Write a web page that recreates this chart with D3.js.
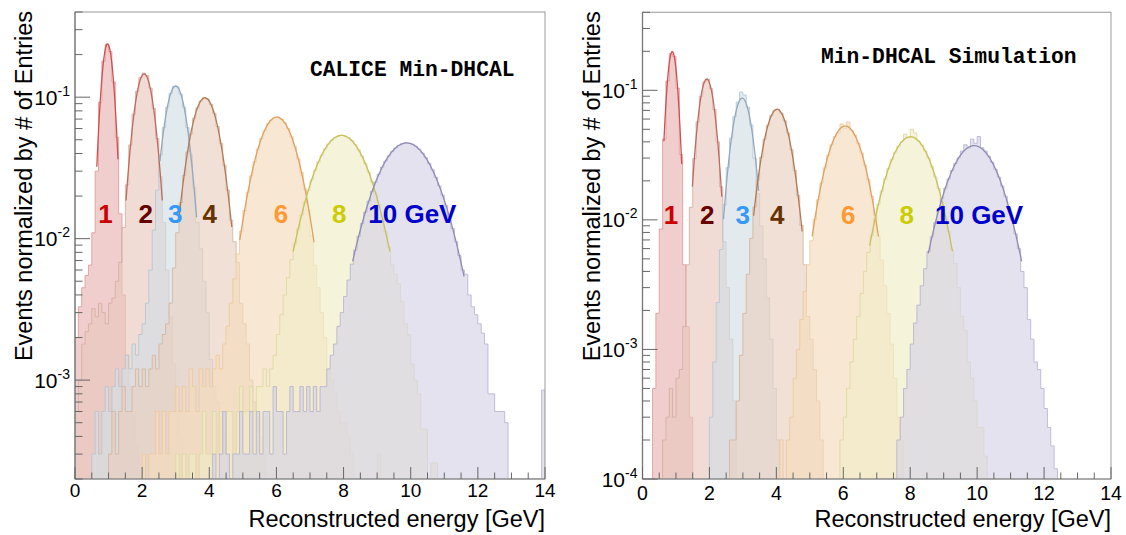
<!DOCTYPE html>
<html><head><meta charset="utf-8">
<script src="https://cdn.jsdelivr.net/npm/d3@7"></script>
<style>body{margin:0;background:#fff} svg{display:block}</style>
</head><body><svg id="c" width="1126" height="535"></svg>
<script>
// ---------------- DATA ----------------
const energies = [1, 2, 3, 4, 6, 8, 10];
const energyLabels = ["1", "2", "3", "4", "6", "8", "10 GeV"];
const binWidth = 0.1;                       // GeV
const xTickValues = [0, 2, 4, 6, 8, 10, 12, 14];
const xTitle = "Reconstructed energy [GeV]";
const yTitle = "Events normalized by # of Entries";

// CALICE Min-DHCAL test-beam data (first bin low edge, then bin contents)
const dataStart = [0.0, 0.0, 0.5, 1.0, 2.0, 3.0, 4.0];
const dataE1 = [0.002,0.0033,0.0045,0.0055,0.0065,0.011,0.03,0.092,0.18,0.236,0.21,0.128,0.052,0.015,0.004,0.0015,0.0009,0.0006,0.00035];
const dataE2 = [0.0006,0.001,0.0018,0.0022,0.0025,0.0032,0.0028,0.0035,0.003,0.0025,0.0035,0.0038,0.005,0.0068,0.012,0.024,0.046,0.076,0.11,0.138,0.148,0.142,0.116,0.083,0.051,0.0275,0.013,0.006,0.0028,0.0013,0.0007,0.0004,0.0003];
const dataE3 = [0.0003,0.0006,0.0003,0.0006,0.0009,0.0006,0.0009,0.0012,0.0009,0.0012,0.0015,0.0012,0.0018,0.0015,0.0021,0.0025,0.0035,0.006,0.0115,0.022,0.039,0.061,0.085,0.106,0.119,0.118,0.105,0.085,0.061,0.039,0.023,0.013,0.0085,0.005,0.003,0.0014,0.0009,0.0007,0.0005,0.0004,0.0003];
const dataE4 = [0.0003,0.0006,0.0003,0.0006,0.0009,0.0006,0.0006,0.0009,0.0012,0.0009,0.0012,0.0009,0.0012,0.0015,0.0012,0.0018,0.0021,0.0025,0.0035,0.0062,0.011,0.018,0.028,0.041,0.055,0.071,0.084,0.094,0.099,0.097,0.089,0.077,0.062,0.047,0.033,0.022,0.0135,0.0095,0.0068,0.0035,0.0025,0.0018,0.001,0.0007,0.0006,0.0004,0.0003];
const dataE6 = [0.0003,0,0.0003,0.0003,0.0006,0.0003,0.0006,0.0003,0.0006,0.0006,0.0009,0.0006,0.0009,0.0006,0.0012,0.0009,0.0006,0.0012,0.0009,0.0012,0.0009,0.0012,0.0015,0.0012,0.0018,0.0024,0.0035,0.0052,0.0078,0.0113,0.0158,0.0213,0.0278,0.035,0.043,0.051,0.058,0.065,0.069,0.072,0.072,0.07,0.066,0.06,0.0525,0.0447,0.0367,0.0293,0.0225,0.016,0.0105,0.0065,0.0045,0.003,0.002,0.0012,0.001,0.0008,0.0006,0.0005,0.0005,0.0004,0.0003,0,0,0,0,0,0,0,0.0003];
const dataE8 = [0.0003,0,0.0003,0,0.0003,0.0003,0,0.0003,0.0006,0.0003,0.0003,0.0006,0.0003,0.0006,0.0003,0.0006,0.0006,0.0003,0.0006,0.0009,0.0006,0.0006,0.0009,0.0006,0.0009,0.0009,0.0012,0.0009,0.0012,0.0015,0.0021,0.0029,0.004,0.0053,0.0071,0.0092,0.0117,0.0147,0.0181,0.0219,0.026,0.0304,0.0348,0.039,0.043,0.0467,0.0497,0.052,0.0533,0.0537,0.0531,0.0516,0.0492,0.0461,0.0424,0.0382,0.0339,0.0295,0.0252,0.0211,0.0174,0.0141,0.0112,0.0087,0.0065,0.0056,0.0048,0.0036,0.0025,0.0021,0.0013,0.001,0.0008,0.00045,0.00045,0,0.00026,0.00026];
const dataE10 = [0,0.0003,0,0.0003,0.0006,0.0003,0,0.0003,0.0003,0.0006,0.0003,0.0003,0.0006,0.0003,0.0006,0.0003,0.0006,0.0006,0.0003,0.0009,0.0006,0.0006,0.0003,0.0006,0.0009,0.0006,0.0006,0.0009,0.0006,0.0009,0.0006,0.0009,0.0006,0.0009,0.0009,0.0012,0.0015,0.0018,0.0024,0.003,0.0039,0.0051,0.0066,0.0083,0.0104,0.0128,0.0154,0.0184,0.0216,0.025,0.0285,0.032,0.0354,0.0385,0.0414,0.0438,0.0457,0.0469,0.0475,0.0473,0.0465,0.045,0.0429,0.0403,0.0373,0.034,0.0306,0.0271,0.0236,0.0203,0.0172,0.0143,0.0118,0.0095,0.0076,0.006,0.0056,0.004,0.0033,0.0029,0.0025,0.00215,0.0018,0.0008,0.0008,0.0006,0.0006,0.0006,0.0005,0,0,0,0,0,0,0,0,0,0,0.00085];
// Gaussian fits to the data (mean, sigma in GeV; peak height; fit range)
const dataFitMean  = [0.97, 2.06, 3.0, 3.87, 6.01, 7.94, 9.88];
const dataFitSigma = [0.16, 0.266, 0.3, 0.39, 0.55, 0.74, 0.82];
const dataFitPeak  = [0.238, 0.146, 0.12, 0.099, 0.0723, 0.0537, 0.0475];
const dataFitLo    = [0.65, 1.52, 2.53, 3.1, 4.91, 6.5, 8.27];
const dataFitHi    = [1.28, 2.6, 3.62, 4.67, 7.12, 9.38, 11.59];

// Min-DHCAL simulation
const simStart = [0.3, 0.6, 1.9, 2.5, 4.0, 5.6, 7.0];
const simE1 = [0.0005,0.0019,0.0085,0.042,0.118,0.192,0.183,0.104,0.032,0.0045,0.0015,0.0003];
const simE2 = [0.0002,0.0003,0.0005,0.0003,0.0006,0.0007,0.0015,0.0045,0.0125,0.0297,0.057,0.09,0.116,0.122,0.103,0.071,0.04,0.018,0.0068,0.003,0.0012,0.0004];
const simE3 = [0.0001,0.0003,0.0008,0.0023,0.0059,0.0131,0.0253,0.0427,0.0626,0.081,0.097,0.092,0.074,0.054,0.03,0.016,0.009,0.005,0.0025,0.0012,0.0005,0.0002];
const simE4 = [0.0001,0.0002,0.0002,0.0004,0.0009,0.0019,0.0038,0.0072,0.0126,0.0203,0.0304,0.042,0.0538,0.0638,0.07,0.0715,0.0668,0.0581,0.0468,0.0349,0.0241,0.0154,0.0091,0.0045,0.0018,0.0012,0.0007,0.0004,0.0002];
const simE6 = [0.0001,0.0002,0.0001,0.0002,0.0003,0.0006,0.001,0.0017,0.0028,0.0045,0.0069,0.0101,0.0143,0.0193,0.0252,0.0315,0.038,0.044,0.047,0.055,0.051,0.057,0.049,0.045,0.039,0.0328,0.0264,0.0205,0.0152,0.0109,0.0075,0.0049,0.0031,0.0019,0.0011,0.0006,0.0003,0.0002,0.0001];
const simE8 = [0.0001,0.0001,0.0001,0.0002,0.0003,0.0005,0.0008,0.0012,0.0018,0.0027,0.004,0.0056,0.0076,0.0102,0.0132,0.0167,0.0207,0.0249,0.0291,0.0333,0.037,0.0401,0.046,0.043,0.05,0.047,0.0406,0.0377,0.034,0.03,0.0257,0.0215,0.0175,0.0139,0.0107,0.0081,0.0059,0.0046,0.003,0.0018,0.0014,0.0008,0.0006,0.0004,0.00025,0.00025,0.00015];
const simE10 = [0.0001,0.0001,0,0.0001,0.0001,0.0001,0.0002,0.0003,0.0005,0.0007,0.0011,0.0016,0.0022,0.0031,0.0042,0.0057,0.0074,0.0095,0.0119,0.0146,0.0176,0.0207,0.024,0.0272,0.0301,0.034,0.038,0.036,0.042,0.039,0.044,0.036,0.034,0.031,0.0278,0.0246,0.0214,0.0182,0.0152,0.0124,0.0099,0.0078,0.006,0.004,0.003,0.0017,0.0012,0.0008,0.0007,0.0005,0.00035,0.00025,0.00018,0.00012];
const simFitMean  = [0.89, 1.92, 2.98, 4.02, 6.06, 8.01, 9.91];
const simFitSigma = [0.14, 0.22, 0.27, 0.36, 0.5, 0.62, 0.7];
const simFitPeak  = [0.199, 0.122, 0.087, 0.0713, 0.053, 0.0438, 0.0374];
const simFitLo    = [0.64, 1.49, 2.42, 3.32, 5.07, 6.79, 8.54];
const simFitHi    = [1.17, 2.37, 3.47, 4.77, 7.05, 9.26, 11.33];

// ---------------- STYLE / LAYOUT ----------------
const fillColors = ["#eab4b4", "#eac8bf", "#d2dfe5", "#eacfbf", "#f5dcbc", "#efecc6", "#d6d3e5"];
const lineColors = ["#de9494", "#d3aca2", "#b4c5d0", "#d2b49e", "#ecc89c", "#dcd7a2", "#b4b1cf"];
const fitColors  = ["#d24e4e", "#bf6a5c", "#90a8c0", "#b07a55", "#e0a060", "#c8c05a", "#8f8db6"];
const labelColors = ["#cc0000", "#660000", "#3399ff", "#663300", "#ff9933", "#cccc00", "#0000cc"];
const FONT = "'Liberation Sans', Arial, Helvetica, sans-serif";
const MONO = "'Liberation Mono', 'Courier New', monospace";

const panels = [
  { hists: [dataE1, dataE2, dataE3, dataE4, dataE6, dataE8, dataE10], starts: dataStart,
    fit: {mean: dataFitMean, sigma: dataFitSigma, peak: dataFitPeak, lo: dataFitLo, hi: dataFitHi},
    title: "CALICE Min-DHCAL", titleX: 310, titleY: 76,
    left: 75, right: 545, top: 12, bottom: 479, ymin: 2e-4, ymax: 0.4,
    labelX: [105.5, 145.8, 175.3, 209.8, 281, 339.2, 368.3], labelY: 223,
    yLabelSize: 21, ySupSize: 14, xLabelSize: 19, xLabelY: 497, yTitleX: 32, xTitleY: 527 },
  { hists: [simE1, simE2, simE3, simE4, simE6, simE8, simE10], starts: simStart,
    fit: {mean: simFitMean, sigma: simFitSigma, peak: simFitPeak, lo: simFitLo, hi: simFitHi},
    title: "Min-DHCAL Simulation", titleX: 821, titleY: 63,
    left: 642.5, right: 1111, top: 12.3, bottom: 479, ymin: 1e-4, ymax: 0.4,
    labelX: [671, 707.3, 742.7, 777.3, 848.3, 906.7, 935], labelY: 224,
    yLabelSize: 21, ySupSize: 14, xLabelSize: 19.5, xLabelY: 500, yTitleX: 600, xTitleY: 527 }
];

const svg = d3.select("#c");

panels.forEach((p, pi) => {
  const x = d3.scaleLinear().domain([0, 14]).range([p.left, p.right]);
  const y = d3.scaleLog().domain([p.ymin, p.ymax]).range([p.bottom, p.top]);
  const g = svg.append("g");
  const clipId = "clip" + pi;
  svg.append("clipPath").attr("id", clipId).append("rect")
    .attr("x", p.left).attr("y", p.top).attr("width", p.right - p.left).attr("height", p.bottom - p.top);
  const plot = g.append("g").attr("clip-path", `url(#${clipId})`);

  // histograms
  p.hists.forEach((vals, k) => {
    const pts = [];
    vals.forEach((v, i) => {
      const x0 = p.starts[k] + i * binWidth;
      const yy = Math.max(v, p.ymin);
      pts.push([x0, yy], [x0 + binWidth, yy]);
    });
    const area = d3.area().x(d => x(d[0])).y0(y(p.ymin)).y1(d => y(d[1]));
    plot.append("path").attr("d", area(pts))
      .attr("fill", fillColors[k]).attr("fill-opacity", 0.65)
      .attr("stroke", lineColors[k]).attr("stroke-opacity", 0.9).attr("stroke-width", 0.9);
  });

  // gaussian fit curves
  energies.forEach((e, k) => {
    const f = p.fit;
    const n = 80;
    const xs = d3.range(n + 1).map(i => f.lo[k] + (f.hi[k] - f.lo[k]) * i / n);
    const line = d3.line().x(d => x(d)).y(d => y(f.peak[k] * Math.exp(-0.5 * ((d - f.mean[k]) / f.sigma[k]) ** 2)));
    plot.append("path").attr("d", line(xs)).attr("fill", "none")
      .attr("stroke", fitColors[k]).attr("stroke-width", 1.3);
  });

  // energy labels
  energyLabels.forEach((t, k) => {
    g.append("text").attr("x", p.labelX[k]).attr("y", p.labelY)
      .attr("text-anchor", k < 6 ? "middle" : "start")
      .attr("font-family", FONT).attr("font-weight", "bold").attr("font-size", 26)
      .attr("fill", labelColors[k]).text(t);
  });

  // title
  g.append("text").attr("x", p.titleX).attr("y", p.titleY)
    .attr("font-family", MONO).attr("font-weight", "bold").attr("font-size", 21.3)
    .attr("fill", "#000").text(p.title);

  // frame
  g.append("rect").attr("x", p.left).attr("y", p.top)
    .attr("width", p.right - p.left).attr("height", p.bottom - p.top)
    .attr("fill", "none").attr("stroke", "#aaa").attr("stroke-width", 1.2);
  g.append("line").attr("x1", p.left).attr("x2", p.left).attr("y1", p.top).attr("y2", p.bottom)
    .attr("stroke", "#777").attr("stroke-width", 1.2);
  g.append("line").attr("x1", p.left).attr("x2", p.right).attr("y1", p.bottom).attr("y2", p.bottom)
    .attr("stroke", "#888").attr("stroke-width", 1.2);

  // x ticks (inside)
  const xMinor = d3.range(0, 14.01, 0.5);
  xMinor.forEach(v => {
    const major = Math.abs(v / 2 - Math.round(v / 2)) < 1e-6;
    g.append("line").attr("x1", x(v)).attr("x2", x(v))
      .attr("y1", p.bottom).attr("y2", p.bottom - (major ? 12 : 6.5))
      .attr("stroke", "#666").attr("stroke-width", 1);
  });
  xTickValues.forEach(v => {
    g.append("text").attr("x", x(v)).attr("y", p.xLabelY).attr("text-anchor", "middle")
      .attr("font-family", FONT).attr("font-size", p.xLabelSize).attr("fill", "#000").text(v);
  });

  // y ticks (log, inside)
  const dLo = Math.floor(Math.log10(p.ymin)), dHi = Math.ceil(Math.log10(p.ymax));
  for (let d = dLo; d <= dHi; d++) {
    for (let m = 1; m <= 9; m++) {
      const v = m * Math.pow(10, d);
      if (v < p.ymin * 0.999 || v > p.ymax * 1.001) continue;
      g.append("line").attr("x1", p.left).attr("x2", p.left + (m === 1 ? 15 : 7.5))
        .attr("y1", y(v)).attr("y2", y(v)).attr("stroke", "#666").attr("stroke-width", 1);
      if (m === 1) {
        const t = g.append("text").attr("x", p.left - 5).attr("y", y(v) + 7.5)
          .attr("text-anchor", "end").attr("font-family", FONT).attr("font-size", p.yLabelSize).attr("fill", "#000");
        t.append("tspan").text("10");
        t.append("tspan").attr("font-size", p.ySupSize).attr("dy", -9).text(String(d));
      }
    }
  }

  // axis titles
  g.append("text").attr("x", p.right).attr("y", p.xTitleY).attr("text-anchor", "end")
    .attr("font-family", FONT).attr("font-size", 23.5).attr("fill", "#000").text(xTitle);
  g.append("text").attr("transform", `translate(${p.yTitleX},${p.top - 1}) rotate(-90)`)
    .attr("text-anchor", "end").attr("font-family", FONT).attr("font-size", 23.5)
    .attr("fill", "#000").text(yTitle);
});
</script></body></html>
